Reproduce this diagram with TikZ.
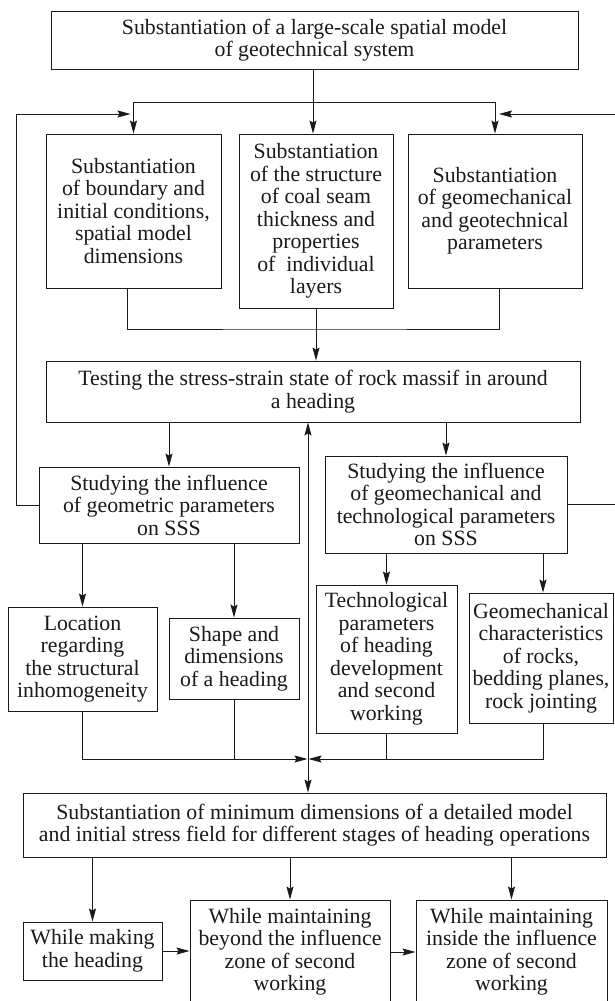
\documentclass[tikz,border=0pt]{standalone}
\usepackage{fontspec}
\setmainfont{Liberation Serif}
\usetikzlibrary{arrows.meta}
\definecolor{ink}{HTML}{1A1A1A}
\begin{document}
\begin{tikzpicture}[x=1pt,y=-1pt,
  box/.style={draw=ink, line width=0.9pt, text=ink, align=center, inner sep=0pt,
    font=\fontsize{21.8}{22.5}\selectfont},
  line/.style={draw=ink, line width=0.9pt},
  tip/.tip={Stealth[length=13pt,width=7pt,inset=2pt]},
  arr/.style={line, -tip},
  darr/.style={line, tip-tip}]
\useasboundingbox (0,0) rectangle (615,1001);
\fill[white] (0,0) rectangle (615,1001);

% nodes
\node[box, minimum width=527, minimum height=58] (top) at (314.5,40) {Substantiation of a large-scale spatial model\\of geotechnical system};
\node[box, minimum width=175, minimum height=154] (A) at (133.5,211) {Substantiation\\of boundary and\\initial conditions,\\spatial model\\dimensions};
\node[box, minimum width=154, minimum height=174] (B) at (316,221) {Substantiation\\of the structure\\of coal seam\\thickness and\\properties\\of\ \ individual\\layers};
\node[box, minimum width=174, minimum height=154] (C) at (495,211) {Substantiation\\of geomechanical\\and geotechnical\\parameters};
\node[box, minimum width=534, minimum height=61] (T) at (313,391.5) {Testing the stress-strain state of rock massif in around\\a heading};
\node[box, minimum width=260, minimum height=76] (SL) at (169,505) {Studying the influence\\of geometric parameters\\on SSS};
\node[box, minimum width=242, minimum height=97] (SR) at (446,504.5) {Studying the influence\\of geomechanical and\\technological parameters\\on SSS};
\node[box, minimum width=149, minimum height=104] (L1) at (82.5,659) {Location\\regarding\\the structural\\inhomogeneity};
\node[box, minimum width=130, minimum height=81] (L2) at (234,658.5) {Shape and\\dimensions\\of a heading};
\node[box, minimum width=141, minimum height=148] (R1) at (386.5,659) {Technological\\parameters\\of heading\\development\\and second\\working};
\node[box, minimum width=144, minimum height=130] (R2) at (541,658) {Geomechanical\\characteristics\\of rocks,\\bedding planes,\\rock jointing};
\node[box, minimum width=583, minimum height=64] (M) at (314.5,825) {Substantiation of minimum dimensions of a detailed model\\and initial stress field for different stages of heading operations};
\node[box, minimum width=139, minimum height=58] (W1) at (92.5,951) {While making\\the heading};
\node[box, minimum width=200, minimum height=104] (W2) at (290,952) {While maintaining\\beyond the influence\\zone of second\\working};
\node[box, minimum width=191, minimum height=104] (W3) at (511.5,952) {While maintaining\\inside the influence\\zone of second\\working};

% junction coordinates
\coordinate (j1) at (313,102);
\coordinate (j2) at (316,329);
\coordinate (jc) at (308,759);
\coordinate (fl) at (16,114);
\coordinate (fr) at (640,114);

% top level
\draw[arr] (top.south -| j1) -- (j1 |- B.north);
\draw[arr] (j1) -| (A.north);
\draw[arr] (j1) -| (C.north);
% feedback loops
\draw[arr] (SL.west) -| (fl) -- ([xshift=-3pt]fl -| A.north);
\draw[arr] (SR.east) -| (fr) -- ([xshift=4pt]fr -| C.north);
% lower bracket
\draw[line] ([xshift=-6pt]A.south) |- (j2) -| ([xshift=4pt]C.south);
\draw[arr] (B.south) -- (B.south |- T.north);
% testing to studying
\draw[arr] (SL.north |- T.south) -- (SL.north);
\draw[arr] (SR.north |- T.south) -- (SR.north);
% studying to details
\draw[arr] (L1.north |- SL.south) -- (L1.north);
\draw[arr] (L2.north |- SL.south) -- (L2.north);
\draw[arr] (R1.north |- SR.south) -- (R1.north);
\draw[arr] ([xshift=2pt]R2.north |- SR.south) -- ([xshift=2pt]R2.north);
% join
\draw[arr] (L1.south) |- ([xshift=-0.5pt]jc);
\draw[line] (L2.south) -- (L2.south |- jc);
\draw[arr] ([xshift=2pt]R2.south) |- ([xshift=0.5pt]jc);
\draw[line] (R1.south) -- (R1.south |- jc);
\draw[darr] (jc |- T.south) -- (jc |- M.north);
% bottom
\draw[arr] (W1.north |- M.south) -- (W1.north);
\draw[arr] (W2.north |- M.south) -- (W2.north);
\draw[arr] (W3.north |- M.south) -- (W3.north);
\draw[arr] (W1.east) -- (W1.east -| W2.west);
\draw[arr] (W2.east) -- (W2.east -| W3.west);
\end{tikzpicture}
\end{document}
